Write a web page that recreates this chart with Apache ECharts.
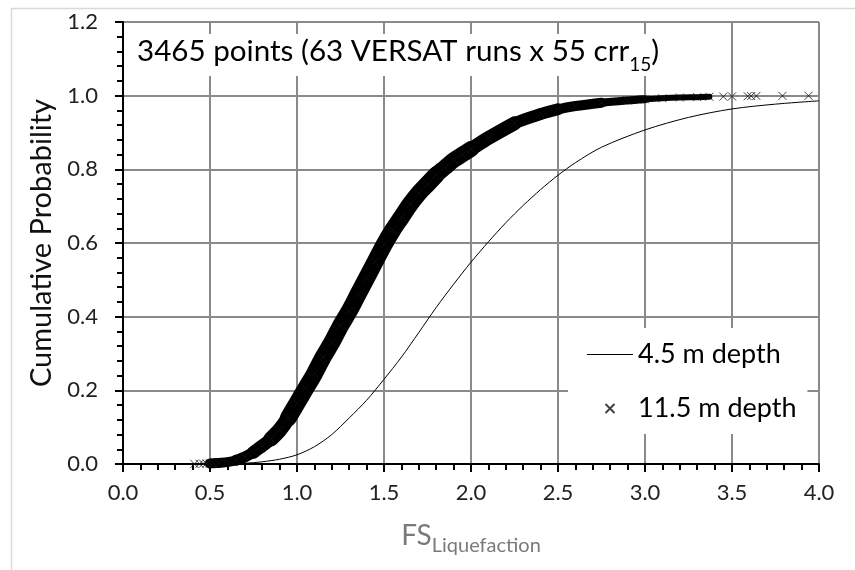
<!DOCTYPE html>
<html><head><meta charset="utf-8">
<script src="https://cdn.jsdelivr.net/npm/echarts@6/dist/echarts.min.js"></script>
<style>html,body{margin:0;padding:0;background:#fff}#c{width:855px;height:570px}</style>
</head><body><div id="c"></div>
<script>
// ---- data ----
// 4.5 m depth : cumulative probability curve
const fs45 = [0.60,0.70,0.80,0.90,1.00,1.10,1.20,1.30,1.40,1.50,1.60,1.70,1.80,1.90,2.00,2.10,2.20,2.30,2.40,2.50,2.60,2.75,3.00,3.25,3.50,3.75,4.00];
const p45  = [0.000,0.002,0.006,0.013,0.025,0.047,0.080,0.125,0.173,0.230,0.290,0.357,0.425,0.488,0.548,0.603,0.655,0.702,0.745,0.784,0.818,0.860,0.907,0.941,0.964,0.977,0.986];
// 11.5 m depth : 3465 points (band centre + sparse tails)
const fs115 = [0.41,0.44,0.46,0.48,0.50,0.52,0.55,0.60,0.65,0.70,0.75,0.80,0.85,0.90,0.95,1.00,1.05,1.10,1.15,1.20,1.25,1.30,1.35,1.40,1.45,1.50,1.55,1.60,1.65,1.70,1.75,1.80,1.85,1.90,1.95,2.00,2.10,2.25,2.40,2.50,2.60,2.75,2.90,3.00,3.10,3.20,3.30,3.37,3.45,3.50,3.59,3.61,3.64,3.79,3.94];
const p115  = [0.0003,0.0006,0.001,0.0012,0.0015,0.002,0.003,0.005,0.010,0.019,0.032,0.049,0.068,0.092,0.125,0.165,0.205,0.245,0.290,0.330,0.375,0.415,0.460,0.505,0.550,0.595,0.635,0.670,0.705,0.735,0.760,0.785,0.805,0.825,0.840,0.855,0.885,0.925,0.950,0.963,0.972,0.981,0.987,0.990,0.993,0.995,0.996,0.997,0.9975,0.998,0.9985,0.999,0.9992,0.9995,0.9997];
const seriesNames = ['4.5 m depth', '11.5 m depth'];
const xAxisRange = [0, 4, 0.5];
const yAxisRange = [0, 1.2, 0.2];
const titleMain = '3465 points (63 VERSAT runs x 55 crr';
const titleSub = '15';
const xName = 'FS', xNameSub = 'Liquefaction';
const yName = 'Cumulative Probability';

// ---- styling of the dense marker band (x-range and stroke width); ranges overlap ----
const bandPieces = [[0.50,0.70,10],[0.65,0.80,11],[0.75,0.90,13],[0.85,1.00,15],[0.95,1.80,17],[1.75,2.00,16],[1.95,2.25,14],[2.10,2.50,12],[2.40,2.75,10],[2.60,3.00,8],[2.90,3.37,6]];

const F = 'Lato, "Open Sans", sans-serif';
const pts45 = fs45.map((x,i)=>[x,p45[i]]);
const pts115 = fs115.map((x,i)=>[x,p115[i]]);

const series = [
  {name: seriesNames[0], type:'line', data: pts45, symbol:'none', showSymbol:false, smooth:0.3,
   lineStyle:{color:'#000', width:1}, itemStyle:{color:'#000'}, z:3, silent:true}
];
bandPieces.forEach((b,k)=>{
  series.push({name:'band'+k, type:'line', data: pts115.filter(p=>p[0]>=b[0]-1e-9 && p[0]<=b[1]+1e-9),
    symbol:'none', smooth:0.3, clip:false, silent:true,
    lineStyle:{color:'#000', width:b[2], cap:'round', join:'round'}, z:2});
});
series.push({name: seriesNames[1], type:'scatter', data: pts115, clip:false,
  symbol:'path://M0,0L8,8M8,0L0,8', symbolSize:8,
  itemStyle:{color:'none', borderColor:'#111', borderWidth:1}, z:4, silent:true});

const chart = echarts.init(document.getElementById('c'), null, {renderer:'canvas'});
chart.setOption({
  backgroundColor:'#fff',
  animation:false,
  textStyle:{fontFamily:F},
  grid:{left:123, right:36, top:22, bottom:106, outerBoundsMode:'none'},
  title:{
    text:'{m|'+titleMain+'}{s|'+titleSub+'}{m|)}',
    left:131, top:26, backgroundColor:'#fff', padding:[2,8,2,6],
    textStyle:{fontWeight:'normal', rich:{
      m:{fontFamily:F, fontSize:29.6, fontWeight:'normal', color:'#000', lineHeight:46},
      s:{fontFamily:F, fontSize:19, fontWeight:'normal', color:'#000', lineHeight:22, verticalAlign:'bottom'}
    }}
  },
  legend:{
    data:[{name:seriesNames[0], icon:'path://M0,0L46,0L46,1.2L0,1.2Z'},{name:seriesNames[1]}],
    orient:'vertical', left:568, top:328,
    itemWidth:46, itemHeight:9, itemGap:27,
    padding:[13,11,12,19], backgroundColor:'#fff',
    textStyle:{fontFamily:F, fontSize:27, color:'#000', lineHeight:26},
    selectedMode:false
  },
  xAxis:{
    type:'value', min:xAxisRange[0], max:xAxisRange[1], interval:xAxisRange[2],
    name:'{a|'+xName+'}{b|'+xNameSub+'}', nameLocation:'middle', nameGap:52,
    nameTextStyle:{rich:{
      a:{fontFamily:F, fontSize:28, color:'#7a7a7a', lineHeight:40},
      b:{fontFamily:F, fontSize:20, color:'#7a7a7a', lineHeight:32, verticalAlign:'bottom'}
    }},
    axisLine:{show:true, onZero:false, lineStyle:{color:'#000', width:2}},
    axisTick:{show:true, length:8, lineStyle:{color:'#000', width:2}},
    minorTick:{show:true, splitNumber:5, length:6, lineStyle:{color:'#000', width:2}},
    splitLine:{show:true, lineStyle:{color:'#8a8a8a', width:2}},
    axisLabel:{fontFamily:F, fontSize:22, color:'#222', margin:18, formatter:v=>v.toFixed(1)}
  },
  yAxis:{
    type:'value', min:yAxisRange[0], max:yAxisRange[1], interval:yAxisRange[2],
    name:yName, nameLocation:'middle', nameGap:62,
    nameTextStyle:{fontFamily:F, fontSize:29, color:'#111'},
    axisLine:{show:true, onZero:false, lineStyle:{color:'#000', width:2}},
    axisTick:{show:true, length:8, lineStyle:{color:'#000', width:2}},
    minorTick:{show:true, splitNumber:5, length:6, lineStyle:{color:'#000', width:2}},
    splitLine:{show:true, lineStyle:{color:'#8a8a8a', width:2}},
    axisLabel:{fontFamily:F, fontSize:22, color:'#222', margin:25, formatter:v=>v.toFixed(1)}
  },
  graphic:[{type:'rect', left:9, top:6, shape:{width:860, height:580},
    style:{fill:'none', stroke:'#d9d9d9', lineWidth:1.5}, silent:true, z:-1}],
  series: series
});
</script></body></html>
